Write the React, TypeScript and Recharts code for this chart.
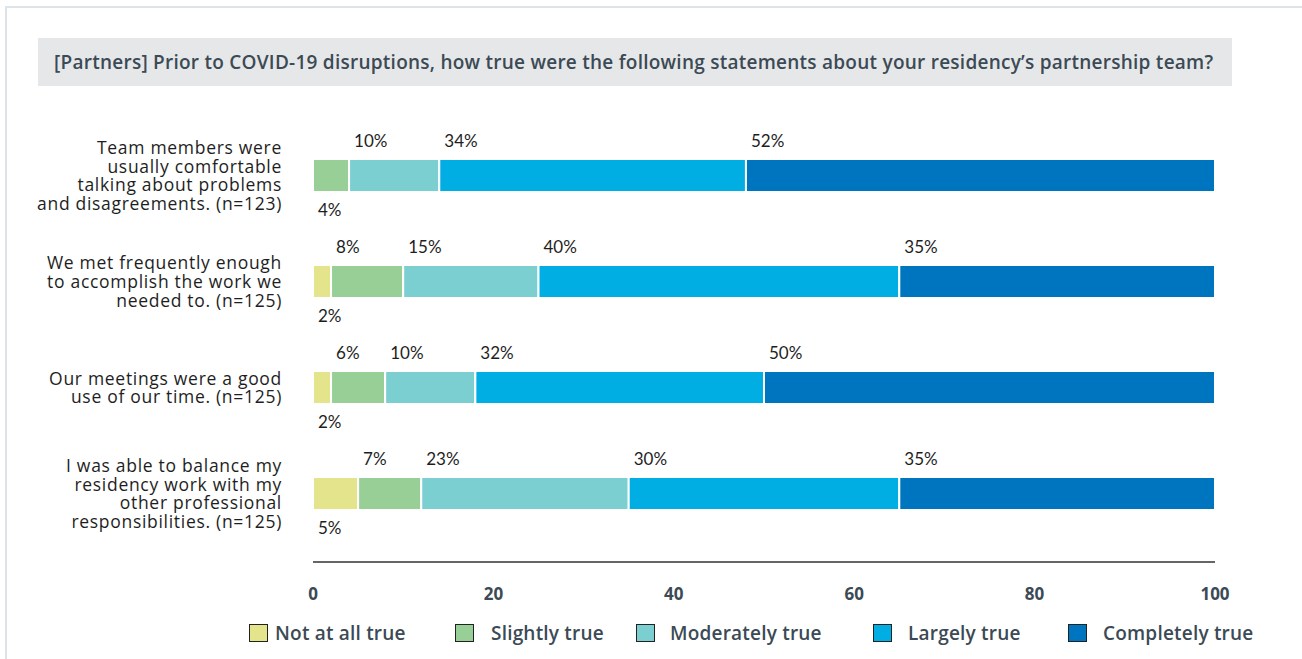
import React from 'react';
import { BarChart, Bar, XAxis, YAxis, LabelList } from 'recharts';

const CATEGORIES = [
  'Team members were usually comfortable talking about problems and disagreements. (n=123)',
  'We met frequently enough to accomplish the work we needed to. (n=125)',
  'Our meetings were a good use of our time. (n=125)',
  'I was able to balance my residency work with my other professional responsibilities. (n=125)',
];
const CATEGORY_LINES = [
  ['Team members were', 'usually comfortable', 'talking about problems', 'and disagreements. (n=123)'],
  ['We met frequently enough', 'to accomplish the work we', 'needed to. (n=125)'],
  ['Our meetings were a good', 'use of our time. (n=125)'],
  ['I was able to balance my', 'residency work with my', 'other professional', 'responsibilities. (n=125)'],
];
const NOT_AT_ALL = [0, 2, 2, 5];
const SLIGHTLY = [4, 8, 6, 7];
const MODERATELY = [10, 15, 10, 23];
const LARGELY = [34, 40, 32, 30];
const COMPLETELY = [52, 35, 50, 35];
const SERIES_KEYS = ['notAtAll', 'slightly', 'moderately', 'largely', 'completely'];
const SERIES_NAMES = ['Not at all true', 'Slightly true', 'Moderately true', 'Largely true', 'Completely true'];
const SERIES_VALUES = [NOT_AT_ALL, SLIGHTLY, MODERATELY, LARGELY, COMPLETELY];
const COLORS = ['#e3e48c', '#98cf96', '#7ccfd1', '#00aee3', '#0075bf'];
const X_TICKS = [0, 20, 40, 60, 80, 100];
const TITLE = '[Partners] Prior to COVID-19 disruptions, how true were the following statements about your residency\u2019s partnership team?';

// layout only (legend item left edges, px)
const LEGEND_LEFT = [249, 455, 636, 873, 1068];
const LEGEND_TEXT_GAP = [7, 17, 15, 16, 16];

const data = CATEGORIES.map((c, i) => {
  const row: any = { category: c };
  SERIES_KEYS.forEach((k, s) => {
    row[k] = SERIES_VALUES[s][i];
  });
  return row;
});

const FONT = 'Lato, "Noto Sans", sans-serif';
const WIDE_FONT = '"Open Sans", "Noto Sans", sans-serif';
const TEXT_DARK = '#3b4a55';

const CategoryTick = (props: any) => {
  const { x, y, payload } = props;
  const idx = CATEGORIES.indexOf(payload.value);
  const lines = CATEGORY_LINES[idx] || [payload.value];
  const lh = 18.7;
  const start = -((lines.length - 1) / 2) * lh;
  return (
    <text
      x={x}
      y={y}
      textAnchor="end"
      fontFamily={WIDE_FONT}
      fontSize={17.5}
      letterSpacing={0.7}
      fill="#1e1e1e"
    >
      {lines.map((l, i) => (
        <tspan key={i} x={x} y={y + start + i * lh} dominantBaseline="central">
          {l}
        </tspan>
      ))}
    </text>
  );
};

const makeLabel = (seriesIndex: number) => (props: any) => {
  const vb = props.viewBox || {};
  const x = props.x ?? vb.x;
  const y = props.y ?? vb.y;
  const height = props.height ?? vb.height;
  const { value, index } = props;
  if (!value) return null;
  let first = true;
  for (let s = 0; s < seriesIndex; s++) {
    if (SERIES_VALUES[s][index] > 0) first = false;
  }
  const ty = first ? y + height + 17 : y - 19;
  return (
    <text
      x={x + 5}
      y={ty}
      dominantBaseline="central"
      fontFamily={FONT}
      fontSize={17}
      fill="#1e1e1e"
    >
      {`${value}%`}
    </text>
  );
};

export default function App() {
  return (
    <div style={{ position: 'absolute', left: 0, top: 0, width: 1302, height: 659, overflow: 'hidden', background: '#fff' }}>
      <div
        style={{
          position: 'absolute',
          left: 5,
          top: 6,
          width: 1400,
          height: 800,
          borderTop: '2px solid #dde4e9',
          borderLeft: '2px solid #dde4e9',
        }}
      />
      <div
        style={{
          position: 'absolute',
          left: 38,
          top: 38,
          width: 1194,
          height: 48,
          background: '#e6e7e8',
          boxSizing: 'border-box',
          paddingLeft: 16,
          display: 'flex',
          alignItems: 'center',
          fontFamily: WIDE_FONT,
          fontWeight: 600,
          fontSize: 19,
          letterSpacing: 0.25,
          color: TEXT_DARK,
          whiteSpace: 'nowrap',
        }}
      >
        {TITLE}
      </div>
      <div style={{ position: 'absolute', left: 0, top: 0 }}>
        <BarChart
          width={1302}
          height={612}
          data={data}
          layout="vertical"
          margin={{ top: 122, right: 87, bottom: 0, left: 0 }}
        >
          <XAxis
            type="number"
            domain={[0, 100]}
            ticks={X_TICKS}
            tickLine={false}
            tickSize={6}
            tickMargin={20}
            height={50}
            axisLine={{ stroke: '#333', strokeWidth: 1.5 }}
            tick={{ fontFamily: WIDE_FONT, fontSize: 17, fontWeight: 700, fill: TEXT_DARK }}
          />
          <YAxis
            type="category"
            dataKey="category"
            width={313}
            axisLine={false}
            tickLine={false}
            tickSize={6}
            tickMargin={25}
            padding={{ top: 0, bottom: 16 }}
            tick={<CategoryTick />}
            interval={0}
          />
          {SERIES_KEYS.map((k, s) => (
            <Bar
              key={k}
              dataKey={k}
              name={SERIES_NAMES[s]}
              stackId="a"
              fill={COLORS[s]}
              stroke="#ffffff"
              strokeWidth={2}
              barSize={33}
              isAnimationActive={false}
            >
              <LabelList dataKey={k} content={makeLabel(s)} />
            </Bar>
          ))}
        </BarChart>
      </div>
      {SERIES_NAMES.map((n, s) => (
        <div
          key={n}
          style={{
            position: 'absolute',
            left: LEGEND_LEFT[s],
            top: 620,
            display: 'flex',
            alignItems: 'center',
            fontFamily: WIDE_FONT,
            fontSize: 19,
            fontWeight: 600,
            letterSpacing: 0.2,
            color: TEXT_DARK,
            whiteSpace: 'nowrap',
          }}
        >
          <div
            style={{
              width: 19,
              height: 18,
              background: COLORS[s],
              border: '1px solid #222',
              boxSizing: 'border-box',
              marginRight: LEGEND_TEXT_GAP[s],
            }}
          />
          <span>{n}</span>
        </div>
      ))}
    </div>
  );
}
